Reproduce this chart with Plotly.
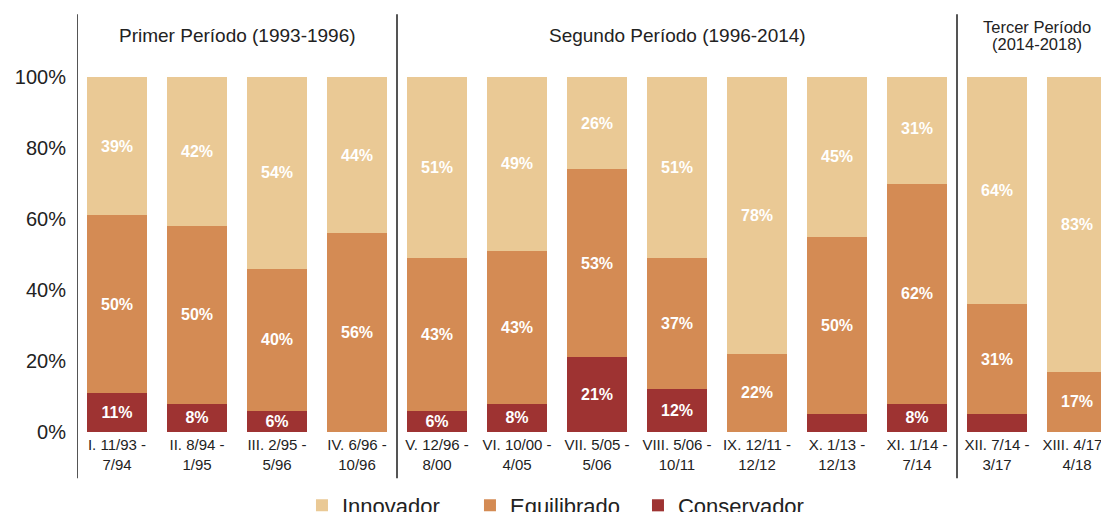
import plotly.graph_objects as go

categories = [
    "I. 11/93 -<br>7/94", "II. 8/94 -<br>1/95", "III. 2/95 -<br>5/96", "IV. 6/96 -<br>10/96",
    "V. 12/96 -<br>8/00", "VI. 10/00 -<br>4/05", "VII. 5/05 -<br>5/06", "VIII. 5/06 -<br>10/11",
    "IX. 12/11 -<br>12/12", "X. 1/13 -<br>12/13", "XI. 1/14 -<br>7/14", "XII. 7/14 -<br>3/17",
    "XIII. 4/17 -<br>4/18",
]
conservador = [11, 8, 6, 0, 6, 8, 21, 12, 0, 5, 8, 5, 0]
equilibrado = [50, 50, 40, 56, 43, 43, 53, 37, 22, 50, 62, 31, 17]
innovador = [39, 42, 54, 44, 51, 49, 26, 51, 78, 45, 31, 64, 83]

periods = ["Primer Período (1993-1996)", "Segundo Período (1996-2014)"]
period_centers = [1.5, 7]
tercer_lines = ["Tercer Período", "(2014-2018)"]
tercer_center = 11.5
dividers = [-0.5, 3.5, 10.5]
y_ticks = [0, 20, 40, 60, 80, 100]
y_ticktext = ["0%", "20%", "40%", "60%", "80%", "100%"]

C_INN = "#EAC995"
C_EQU = "#D48B54"
C_CON = "#9E3332"
FONT = "Liberation Sans, Arial, sans-serif"


def labels(vals):
    return [f"{v}%" if v > 5 else "" for v in vals]


x_idx = list(range(len(categories)))

fig = go.Figure()
for name, vals, col in [
    ("Conservador", conservador, C_CON),
    ("Equilibrado", equilibrado, C_EQU),
    ("Innovador", innovador, C_INN),
]:
    fig.add_trace(go.Bar(
        x=x_idx, y=vals, name=name, marker=dict(color=col, line=dict(width=0)),
        text=labels(vals), textposition="inside", insidetextanchor="middle",
        textangle=0, textfont=dict(color="white", size=16, family=FONT, weight="bold"),
        hoverinfo="skip",
    ))

shapes = []
for d in dividers:
    shapes.append(dict(type="line", xref="x", yref="paper", x0=d, x1=d,
                       y0=-0.13, y1=1.177, line=dict(color="#555555", width=2),
                       layer="above"))

annotations = []
for txt, c in zip(periods, period_centers):
    annotations.append(dict(text=txt, x=c, xref="x", y=1.116, yref="paper",
                            showarrow=False, font=dict(size=19, color="#222", family=FONT),
                            xanchor="center", yanchor="middle"))
for txt, yy in zip(tercer_lines, [1.142, 1.093]):
    annotations.append(dict(text=txt, x=tercer_center, xref="x", y=yy, yref="paper",
                            showarrow=False, font=dict(size=16.5, color="#222", family=FONT),
                            xanchor="center", yanchor="middle"))

# page body has an 8px margin, so the figure is offset by 8px
fig.update_layout(
    width=1101, height=504,
    margin=dict(l=69, r=0, t=69, b=80, pad=0, autoexpand=False),
    paper_bgcolor="white", plot_bgcolor="white",
    barmode="stack", bargap=0.257,
    font=dict(family=FONT, color="#222"),
    shapes=shapes, annotations=annotations,
    uniformtext=dict(minsize=16, mode="show"),
    legend=dict(orientation="h", traceorder="reversed", x=0.218, xanchor="left",
                y=-0.148, yanchor="top", font=dict(size=22, color="#222", family=FONT),
                entrywidth=123, itemwidth=30),
    xaxis=dict(range=[-0.5, 12.4], tickmode="array", tickvals=x_idx, ticktext=categories,
               tickfont=dict(size=15, color="#222"), showline=False, showgrid=False,
               zeroline=False, ticks="", ticklabelstandoff=2, ticklabeloverflow="allow"),
    yaxis=dict(range=[0, 100], tickmode="array", tickvals=y_ticks, ticktext=y_ticktext,
               tickfont=dict(size=20, color="#222"), showline=False, showgrid=False,
               zeroline=False, ticks="", ticklabelstandoff=10),
)

fig.write_html("out.html")
